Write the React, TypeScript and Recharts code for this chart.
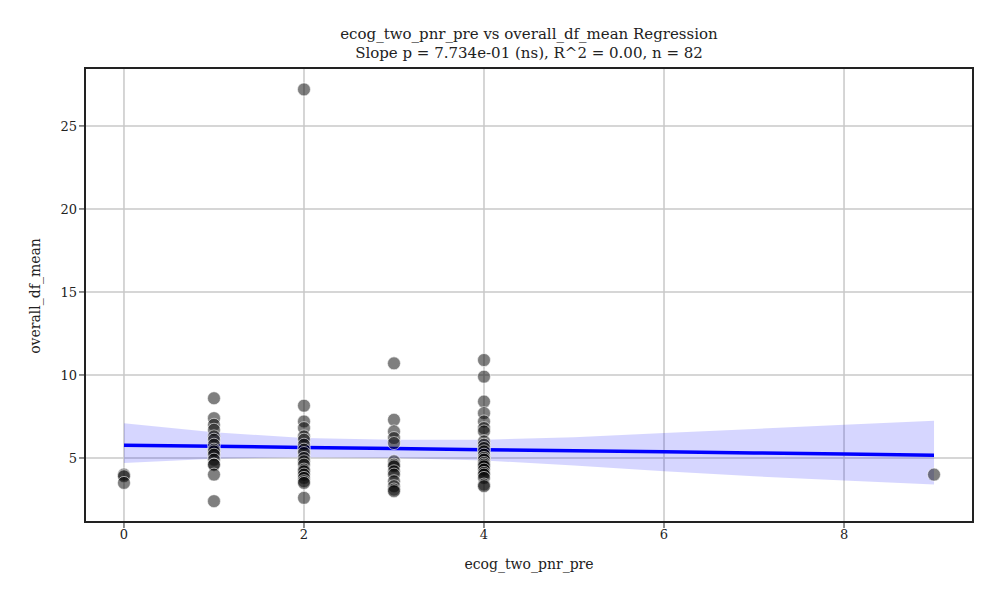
import React from 'react';
import { ComposedChart, Scatter, Line, Area, XAxis, YAxis, CartesianGrid, ReferenceArea } from 'recharts';

const xs0 = [0, 0, 0];
const ys0 = [4.0, 3.9, 3.5];
const ys1 = [8.6, 7.4, 7.0, 6.7, 6.3, 6.1, 5.8, 5.5, 5.4, 5.2, 4.9, 4.6, 4.6, 4.0, 2.4];
const ys2 = [27.2, 8.15, 7.2, 6.8, 6.3, 6.1, 5.8, 5.5, 5.3, 5.0, 4.8, 4.6, 4.3, 4.2, 4.0, 3.8, 3.6, 3.5, 2.6];
const ys3 = [10.7, 7.3, 6.6, 6.2, 5.9, 4.8, 4.6, 4.5, 4.2, 4.0, 3.6, 3.3, 3.1, 3.0];
const ys4 = [10.9, 9.9, 8.4, 7.7, 7.2, 6.8, 6.6, 6.0, 5.8, 5.6, 5.4, 5.2, 5.0, 4.9, 4.7, 4.6, 4.5, 4.3, 4.1, 4.0, 3.8, 3.4, 3.3];
const ys9 = [4.0];

const bandX = [0, 1, 2, 3, 4, 5, 6, 7, 8, 9];
const bandLo = [4.7, 4.95, 5.05, 5.0, 4.85, 4.55, 4.2, 3.9, 3.65, 3.4];
const bandHi = [7.1, 6.55, 6.2, 6.1, 6.1, 6.25, 6.5, 6.75, 7.0, 7.25];
const fitStart = 5.77;
const fitEnd = 5.17;
const xTicks = [0, 2, 4, 6, 8];
const yTicks = [5, 10, 15, 20, 25];

const pts = [
  ...ys0.map((y, i) => ({ x: xs0[i], y })),
  ...ys1.map(y => ({ x: 1, y })),
  ...ys2.map(y => ({ x: 2, y })),
  ...ys3.map(y => ({ x: 3, y })),
  ...ys4.map(y => ({ x: 4, y })),
  ...ys9.map(y => ({ x: 9, y })),
];
const band = bandX.map((x, i) => ({
  x,
  band: [bandLo[i], bandHi[i]],
  fit: fitStart + (fitEnd - fitStart) * (x / 9),
}));

const font = 'DejaVu Serif';
const tick = { fontFamily: font, fontSize: 13, fill: '#222' };

export default function App() {
  return (
    <div style={{ position: 'absolute', left: 0, top: 0, width: 1000, height: 600, background: '#fff', fontFamily: font, color: '#222' }}>
      <div style={{ position: 'absolute', left: 85, width: 888, top: 25, textAlign: 'center', fontSize: 15, lineHeight: '19px' }}>
        ecog_two_pnr_pre vs overall_df_mean Regression<br />Slope p = 7.734e-01 (ns), R^2 = 0.00, n = 82
      </div>
      <div style={{ position: 'absolute', left: 85, width: 888, top: 556, textAlign: 'center', fontSize: 14 }}>ecog_two_pnr_pre</div>
      <div style={{ position: 'absolute', left: 35, top: 296, fontSize: 14, transform: 'translate(-50%,-50%) rotate(-90deg)', whiteSpace: 'nowrap' }}>overall_df_mean</div>
      <ComposedChart width={1000} height={600} margin={{ top: 68, right: 27, bottom: 0, left: 0 }}>
        <CartesianGrid stroke="#c8c8c8" strokeWidth={1.5} />
        <XAxis type="number" dataKey="x" domain={[-0.433, 9.433]} ticks={xTicks} allowDataOverflow height={78}
          tick={tick} tickLine={{ stroke: '#222' }} tickSize={6} axisLine={false} />
        <YAxis type="number" domain={[1.145, 28.49]} ticks={yTicks} allowDataOverflow width={85}
          tick={tick} tickLine={{ stroke: '#222' }} tickSize={6} axisLine={false} />
        <Area data={band} dataKey="band" type="linear" stroke="none" fill="#0000ff" fillOpacity={0.16} isAnimationActive={false} />
        <Scatter data={pts} dataKey="y" fill="rgba(0,0,0,0.5)" stroke="#fff" strokeWidth={0.6}
          shape={(p: any) => <circle cx={p.cx} cy={p.cy} r={6.5} fill="rgba(0,0,0,0.5)" stroke="#fff" strokeWidth={0.6} />}
          isAnimationActive={false} />
        <Line data={band} dataKey="fit" type="linear" stroke="#0000ff" strokeWidth={3.5} dot={false} isAnimationActive={false} />
        <ReferenceArea x1={-0.433} x2={9.433} y1={1.145} y2={28.49} fill="none" stroke="#222" strokeWidth={2} ifOverflow="visible" />
      </ComposedChart>
    </div>
  );
}
